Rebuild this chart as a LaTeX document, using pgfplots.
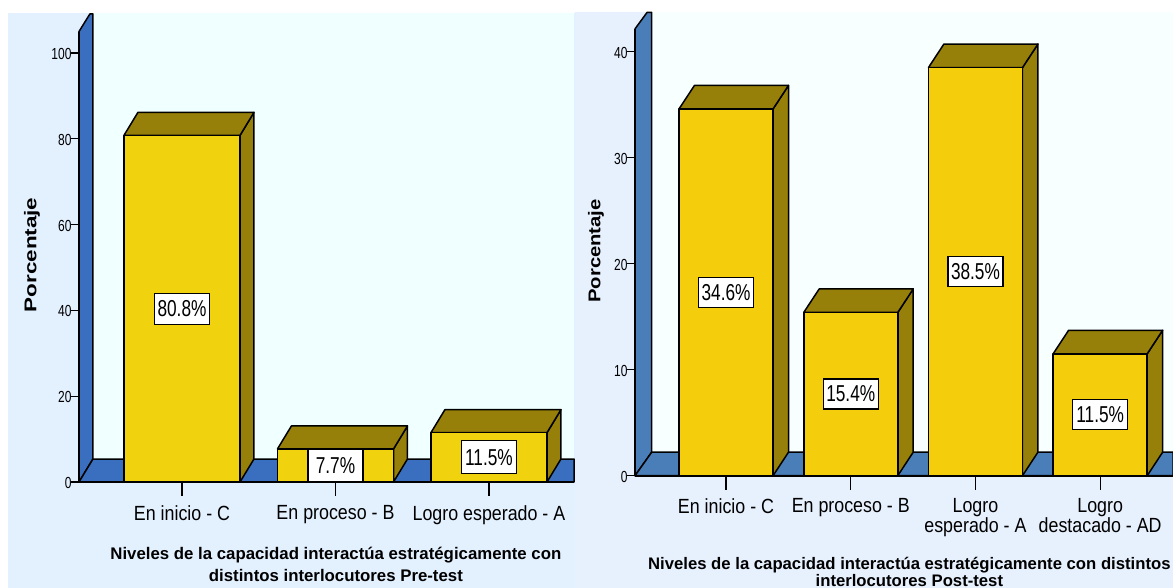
\documentclass[border=0pt]{standalone}
\usepackage{fontspec}
\setmainfont{Liberation Sans}
\newfontfamily\numfont[FakeStretch=0.75]{Liberation Sans}
\newfontfamily\catfont[FakeStretch=0.87]{Liberation Sans}
\newfontfamily\wideL[FakeStretch=1.32]{Liberation Sans}
\newfontfamily\wideR[FakeStretch=1.19]{Liberation Sans}
\usepackage{pgfplots}
\pgfplotsset{compat=1.18}
\definecolor{panelL}{HTML}{E3F0FE}
\definecolor{panelR}{HTML}{E7F0FD}
\definecolor{innerL}{HTML}{F0FFFF}
\definecolor{innerR}{HTML}{F8FFFF}
\definecolor{wallL}{HTML}{3A6EBE}
\definecolor{wallR}{HTML}{4A7EB8}
\definecolor{barL}{HTML}{F0D20E}
\definecolor{barR}{HTML}{F4CE0C}
\definecolor{shade}{HTML}{96800A}
\pgfplotsset{
  panel/.style={
    scale only axis, clip=false, axis on top=true,
    axis x line=bottom, axis y line=left,
    axis line style={black,line width=1.8pt,-},
    tick align=outside, major tick length=8pt,
    tick style={black,line width=1.3pt},
    ymin=0,
    /pgf/number format/assume math mode=true,
    yticklabel style={font=\numfont\fontsize{16}{16}\selectfont,xshift=4pt,yshift=-1pt},
    xticklabel style={font=\catfont\fontsize{20.5}{20}\selectfont,align=center},
  },
  face/.style={fill=#1,draw=black,line width=1.5pt,line join=round},
  val/.style={draw=none,mark=none,nodes near coords,point meta=explicit symbolic,
    every node near coord/.append style={anchor=center,draw=black,fill=white,line width=1.2pt,
      font=\numfont\fontsize{23}{23}\selectfont,inner sep=0pt,minimum width=55pt,minimum height=#1}},
}
\begin{document}
\begin{tikzpicture}[x=1pt,y=1pt]
\useasboundingbox (0,0) rectangle (1173,588);
\fill[white] (0,0) rectangle (1173,588);
\fill[panelL] (8,0) rectangle (575,575);
\fill[panelR] (575,0) rectangle (1173,576);
\fill[innerL] (93,129) rectangle (574,575);
\fill[innerR] (651,136) rectangle (1173,576);
% ---------- left
\begin{axis}[panel, at={(79pt,106pt)}, anchor=south west,
  width=495pt, height=450.45pt,
  xmin=-0.671, xmax=2.554, ymax=105,
  ytick={0,20,40,60,80,100},
  xtick={0,1,2},
  xticklabels={En inicio - C,En proceso - B,Logro esperado - A},
  xticklabel style={yshift=-12pt},
  xlabel={Niveles de la capacidad interactúa estratégicamente con\\distintos interlocutores  Pre-test},
  ylabel={Porcentaje},
  every axis x label/.style={at={(axis description cs:0.519,-0.184)},anchor=center,align=center,font=\bfseries\fontsize{16.8}{22}\selectfont},
  every axis y label/.style={at={(axis description cs:-0.095,0.504)},anchor=center,rotate=90,font=\wideL\bfseries\fontsize{17}{17}\selectfont},
]
\addplot[face=wallL] coordinates {(-0.671,0)(-0.671,105)(-0.60,109.1)(-0.58,109.1)(-0.58,5.36)} --cycle;
\addplot[face=wallL] coordinates {(-0.671,0)(-0.58,5.36)(2.554,5.36)(2.554,0)} --cycle;
\addplot[face=shade] coordinates {(0.378,0)(0.469,5.36)(0.469,86.16)(0.378,80.8)} --cycle;
\addplot[face=shade] coordinates {(-0.378,80.8)(-0.287,86.16)(0.469,86.16)(0.378,80.8)} --cycle;
\addplot[face=shade] coordinates {(1.378,0)(1.469,5.36)(1.469,13.06)(1.378,7.7)} --cycle;
\addplot[face=shade] coordinates {(0.622,7.7)(0.713,13.06)(1.469,13.06)(1.378,7.7)} --cycle;
\addplot[face=shade] coordinates {(2.378,0)(2.469,5.36)(2.469,16.86)(2.378,11.5)} --cycle;
\addplot[face=shade] coordinates {(1.622,11.5)(1.713,16.86)(2.469,16.86)(2.378,11.5)} --cycle;
\addplot[ybar,bar width=116pt,face=barL] coordinates {(0,80.8)(1,7.7)(2,11.5)};
\addplot[val=31pt] coordinates {(0,40.4)[80.8\%]};
\addplot[val=33pt] coordinates {(1,3.85)[7.7\%]};
\addplot[val=33pt] coordinates {(2,5.75)[11.5\%]};
\addplot[ycomb,black,line width=1.3pt,mark=none] coordinates {(0,-3.26)(1,-3.26)(2,-3.26)};
\end{axis}
% ---------- right
\begin{axis}[panel, at={(635pt,112.3pt)}, anchor=south west,
  width=538pt, height=446.8pt,
  xmin=-0.73, xmax=3.584, ymax=42.15,
  ytick={0,10,20,30,40},
  xtick={0,1,2,3},
  xticklabels={En inicio - C,En proceso - B,Logro\\esperado - A,Logro\\destacado - AD},
  xticklabel style={yshift=-11pt},
  xlabel={Niveles de la capacidad interactúa estratégicamente con distintos\\interlocutores  Post-test},
  ylabel={Porcentaje},
  every axis x label/.style={at={(axis description cs:0.51,-0.215)},anchor=center,align=center,font=\bfseries\fontsize{16.7}{17}\selectfont},
  every axis y label/.style={at={(axis description cs:-0.0725,0.503)},anchor=center,rotate=90,font=\wideR\bfseries\fontsize{17}{17}\selectfont},
]
\addplot[face=wallR] coordinates {(-0.73,0)(-0.73,42.15)(-0.6335,43.7)(-0.596,43.7)(-0.596,2.22)} --cycle;
\addplot[face=wallR] coordinates {(-0.73,0)(-0.596,2.22)(3.584,2.22)(3.584,0)} --cycle;
\addplot[face=shade] coordinates {(0.377,0)(0.501,2.22)(0.501,36.82)(0.377,34.6)} --cycle;
\addplot[face=shade] coordinates {(-0.377,34.6)(-0.253,36.82)(0.501,36.82)(0.377,34.6)} --cycle;
\addplot[face=shade] coordinates {(1.377,0)(1.501,2.22)(1.501,17.62)(1.377,15.4)} --cycle;
\addplot[face=shade] coordinates {(0.623,15.4)(0.747,17.62)(1.501,17.62)(1.377,15.4)} --cycle;
\addplot[face=shade] coordinates {(2.377,0)(2.501,2.22)(2.501,40.72)(2.377,38.5)} --cycle;
\addplot[face=shade] coordinates {(1.623,38.5)(1.747,40.72)(2.501,40.72)(2.377,38.5)} --cycle;
\addplot[face=shade] coordinates {(3.377,0)(3.501,2.22)(3.501,13.72)(3.377,11.5)} --cycle;
\addplot[face=shade] coordinates {(2.623,11.5)(2.747,13.72)(3.501,13.72)(3.377,11.5)} --cycle;
\addplot[ybar,bar width=94pt,face=barR] coordinates {(0,34.6)(1,15.4)(2,38.5)(3,11.5)};
\addplot[val=30pt] coordinates {(0,17.3)[34.6\%]};
\addplot[val=30pt] coordinates {(1,7.7)[15.4\%]};
\addplot[val=30pt] coordinates {(2,19.25)[38.5\%]};
\addplot[val=30pt] coordinates {(3,5.75)[11.5\%]};
\addplot[ycomb,black,line width=1.3pt,mark=none] coordinates {(0,-1.32)(1,-1.32)(2,-1.32)(3,-1.32)};
\end{axis}
\end{tikzpicture}
\end{document}
